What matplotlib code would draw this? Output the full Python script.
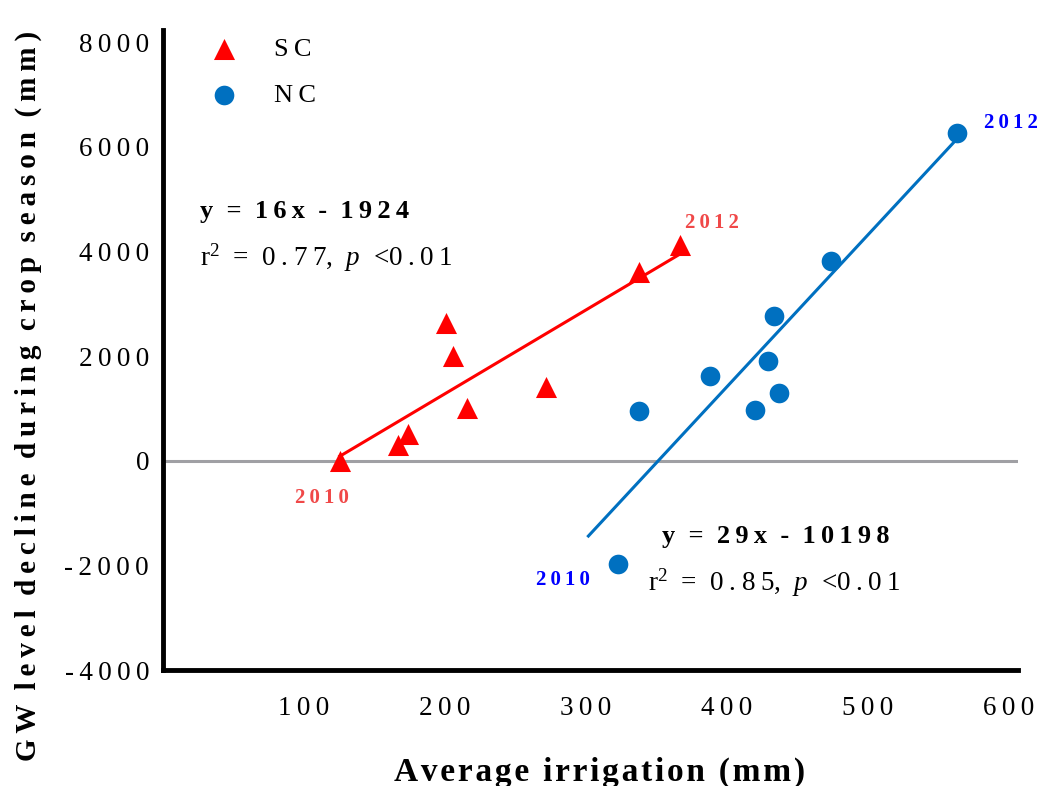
import matplotlib
matplotlib.use("Agg")
import matplotlib.pyplot as plt
import numpy as np

plt.rcParams['font.family'] = ['Liberation Serif', 'DejaVu Serif']
plt.rcParams['mathtext.fontset'] = 'custom'
plt.rcParams['mathtext.rm'] = 'Liberation Serif'
plt.rcParams['mathtext.it'] = 'Liberation Serif:italic'
plt.rcParams['mathtext.bf'] = 'Liberation Serif:bold'

# data
sc_irr = [125.5, 167, 174, 200.7, 206, 216, 272, 337.6, 366.7]
sc_gw = [0, 305, 514, 2629, 2000, 1010, 1410, 3600, 4114]
nc_irr = [322.7, 338, 388, 420.6, 429.8, 434, 437.6, 474.5, 563.8]
nc_gw = [-1981, 952, 1619, 971, 1905, 2762, 1295, 3810, 6267]

sc_fit = (16, -1924)
nc_fit = (29, -10198)
sc_fit_range = (125.5, 366.7)
nc_fit_range = (302, 564)

x_ticks = [100, 200, 300, 400, 500, 600]
y_ticks = [-4000, -2000, 0, 2000, 4000, 6000, 8000]

RED = '#ff0000'
RED_TXT = '#f04848'
BLUE = '#0070c0'
BLUE_TXT = '#0000ff'
TS = '\u2009'   # thin space
HS = '\u200a'   # hair space
EN = '\u2002'   # en space


def spaced(s, sep=TS):
    return sep.join(s)


fig = plt.figure(figsize=(10.39, 7.86), dpi=100)
ax = fig.add_axes([163 / 1039, 1 - 670 / 786, 855 / 1039, 640 / 786])

ax.axhline(0, color='#a0a0a4', lw=2.2, zorder=1)

xs = np.array(sc_fit_range)
ax.plot(xs, sc_fit[0] * xs + sc_fit[1], color=RED, lw=2.2, zorder=2)
xn = np.array(nc_fit_range)
ax.plot(xn, nc_fit[0] * xn + nc_fit[1], color=BLUE, lw=2.2, zorder=2)

ax.scatter(sc_irr, sc_gw, marker='^', s=230, color=RED, lw=0, zorder=3,
           label=spaced('SC'))
ax.scatter(nc_irr, nc_gw, marker='o', s=200, color=BLUE, lw=0, zorder=3,
           label=spaced('NC'))

ax.set_xlim(0, 607)
ax.set_ylim(-4000, 8230)
ax.set_xticks(x_ticks)
ax.set_xticklabels([spaced(str(v)) for v in x_ticks], fontsize=19.5)
ax.set_yticks(y_ticks)
ax.set_yticklabels([spaced(str(v)) for v in y_ticks], fontsize=19.5)
ax.tick_params(axis='both', length=0)
ax.tick_params(axis='x', pad=19)
ax.tick_params(axis='y', pad=10)

for side in ['top', 'right']:
    ax.spines[side].set_visible(False)
for side in ['left', 'bottom']:
    ax.spines[side].set_linewidth(3.5)

leg = ax.legend(loc='upper left', bbox_to_anchor=(0.013, 1.025), frameon=False,
                fontsize=19, handletextpad=0.9, labelspacing=0.85, scatterpoints=1)

# year labels next to the first and last points of each group
ann = dict(textcoords='offset points', ha='center', va='center',
           fontsize=15, fontweight='bold')
ax.annotate(spaced('2010'), (sc_irr[0], sc_gw[0]), xytext=(-13, -27), color=RED_TXT, **ann)
ax.annotate(spaced('2012'), (sc_irr[-1], sc_gw[-1]), xytext=(23, 16), color=RED_TXT, **ann)
ax.annotate(spaced('2010'), (nc_irr[0], nc_gw[0]), xytext=(-39, -11), color=BLUE_TXT, **ann)
ax.annotate(spaced('2012'), (nc_irr[-1], nc_gw[-1]), xytext=(39, 7), color=BLUE_TXT, **ann)


# regression equations
def eq_text(x1, x2, y, fit, r2):
    a, b = fit
    sign = '-' if b < 0 else '+'
    line1 = f'y = {a}x {sign} {abs(b)}'
    ax.text(x1, y, '  '.join(spaced(w) for w in line1.split(' ')), transform=ax.transAxes,
            fontsize=19, fontweight='bold', va='center', ha='left')
    line2 = ('r$^{2}$' + EN + '=' + EN + spaced(f'{r2:.2f}') + ',' + EN
             + '$\\mathit{p}$' + EN + '<' + spaced('0.01'))
    ax.text(x2, y - 0.072, line2, transform=ax.transAxes,
            fontsize=19.5, va='center', ha='left')


eq_text(0.043, 0.043, 0.716, sc_fit, 0.77)
eq_text(0.584, 0.567, 0.208, nc_fit, 0.85)

fig.text(600 / 1039, 1 - 772 / 786, spaced('Average irrigation (mm)', HS), ha='center',
         va='center', fontsize=24, fontweight='bold')
ylab = '  '.join(spaced(w) for w in 'GW level decline during crop season (mm)'.split(' '))
fig.text(28 / 1039, 1 - 396 / 786, ylab, rotation=90, ha='center', va='center',
         fontsize=21, fontweight='bold')

fig.savefig('out.png', dpi=100)
